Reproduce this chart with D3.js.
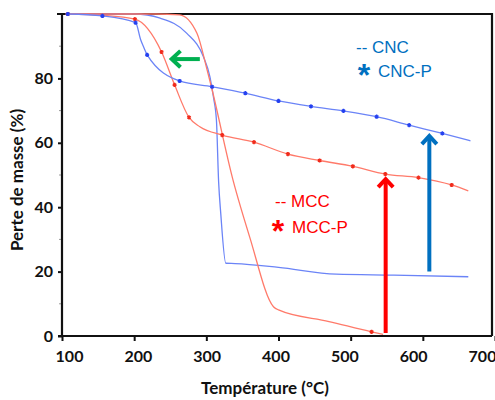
<!DOCTYPE html>
<html>
<head>
<meta charset="utf-8">
<script src="https://cdn.jsdelivr.net/npm/d3@7"></script>
<style>
  body { margin: 0; background: #fff; }
  svg { display: block; }
  .tick text { font-family: Lato, sans-serif; font-weight: 700; font-size: 16px; fill: #111; }
</style>
</head>
<body>
<div id="chart"></div>
<script>
'use strict';

const width = 495;
const height = 400;

// CNC (plain blue line)
const cncTemp = [105, 200, 236, 273, 296, 305, 310, 314, 317, 320, 327, 340, 400, 480, 560, 663];
const cncMass = [100, 100, 98.7, 94, 86.7, 80.5, 74, 67, 48, 38, 22.6, 22.5, 21.3, 19.2, 18.9, 18.4];

// CNC-P (blue, asterisk markers)
const cncpTemp = [108, 156, 202, 209, 213, 218, 263, 308, 354, 400, 445, 490, 536, 581, 627, 666];
const cncpMass = [100, 99.4, 97.3, 92, 89.8, 87.3, 79.2, 77.4, 75.4, 73.0, 71.3, 69.9, 68.1, 65.5, 62.9, 60.6];
const cncpStar = [1, 1, 1, 0, 0, 1, 1, 1, 1, 1, 1, 1, 1, 1, 1, 0];

// MCC (plain red line)
const mccTemp = [105, 230, 263, 287, 300, 307, 337, 360, 393, 400, 470, 529, 545];
const mccMass = [100, 100, 99.7, 94, 83.6, 77.4, 48.4, 30.8, 9.1, 8.1, 4.5, 1.3, 0.5];
const mccStar = [0, 0, 0, 0, 0, 0, 0, 0, 0, 0, 0, 1, 0];

// MCC-P (red, asterisk markers)
const mccpTemp = [108, 156, 201, 238, 256, 276, 291, 322, 366, 413, 457, 503, 548, 594, 640, 663];
const mccpMass = [100, 99.6, 98.4, 88.2, 78.0, 67.9, 65.0, 62.4, 60.2, 56.5, 54.5, 52.7, 50.3, 49.2, 46.9, 45.1];
const mccpStar = [1, 0, 1, 1, 1, 1, 0, 1, 1, 1, 1, 1, 1, 1, 1, 0];

const xTicks = [100, 200, 300, 400, 500, 600, 700];
const yTicks = [0, 20, 40, 60, 80];
const yMinor = [10, 30, 50, 70, 90];

// annotation arrows, in data units: [temp from, mass from, temp to, mass to]
const greenArrow = [291, 86, 252, 86];
const redArrow = [548.5, 0.9, 548.5, 48.7];
const blueArrow = [609, 20, 609, 62.1];

const x = d3.scaleLinear().domain([100, 700]).range([62, 495]);
const y = d3.scaleLinear().domain([0, 100]).range([336, 14]);
// tick labels in the source sit slightly off their ticks
const xLabel = d3.scaleLinear().domain([100, 700]).range([69, 482]);

let svg = d3.select('#chart').append('svg')
    .attr('width', width)
    .attr('height', height);

svg.append('rect')
    .attr('width', width)
    .attr('height', height)
    .attr('fill', '#fff');

// frame top & right
svg.append('path')
    .attr('d', `M57,${y(100)}H492V${y(0)}`)
    .attr('fill', 'none')
    .attr('stroke', '#111')
    .attr('stroke-width', 2.2);

// minor y ticks
svg.append('g').selectAll('line').data(yMinor)
    .enter().append('line')
    .attr('x1', 59).attr('x2', 62)
    .attr('y1', d => y(d)).attr('y2', d => y(d))
    .attr('stroke', '#999');

let yAxis = svg.append('g')
    .attr('transform', `translate(${x(100)},0)`)
    .call(d3.axisLeft(y).tickValues(yTicks).tickSize(4).tickPadding(5));
yAxis.select('.domain').attr('d', `M0,${y(100)}V${y(0)}`).attr('stroke-width', 2.2).attr('stroke', '#111');
yAxis.selectAll('.tick line').attr('stroke-width', 2).attr('stroke', '#111');

let xAxis = svg.append('g')
    .attr('transform', `translate(0,${y(0)})`)
    .call(d3.axisBottom(x).tickValues(xTicks).tickSize(5).tickPadding(10));
xAxis.select('.domain').attr('d', 'M58,0H492').attr('stroke-width', 2.2).attr('stroke', '#111');
xAxis.selectAll('.tick line').attr('stroke-width', 2).attr('stroke', '#111');
xAxis.selectAll('.tick text').attr('x', d => xLabel(d) - x(d));

// curves
const line = d3.line()
    .x(d => x(d[0]))
    .y(d => y(d[1]))
    .curve(d3.curveMonotoneX);

const series = [
    {t: cncTemp, m: cncMass, star: null, color: '#6b84f7', mark: '#2440f0'},
    {t: mccTemp, m: mccMass, star: mccStar, color: '#ff7a6a', mark: '#f02a1a'},
    {t: mccpTemp, m: mccpMass, star: mccpStar, color: '#ff7a6a', mark: '#f02a1a'},
    {t: cncpTemp, m: cncpMass, star: cncpStar, color: '#6b84f7', mark: '#2440f0'}
];

const star = d3.symbol().type(d3.symbolAsterisk).size(12);

series.forEach(s => {
    const pts = s.t.map((t, i) => [t, s.m[i]]);
    svg.append('path')
        .attr('d', line(pts))
        .attr('fill', 'none')
        .attr('stroke', s.color)
        .attr('stroke-width', 1.3);
    if (s.star) {
        svg.append('g').selectAll('path')
            .data(pts.filter((p, i) => s.star[i]))
            .enter().append('path')
            .attr('d', star)
            .attr('transform', d => `translate(${x(d[0])},${y(d[1])})`)
            .attr('fill', 'none')
            .attr('stroke', s.mark)
            .attr('stroke-width', 1.5);
    }
});

// arrows
function arrow(a, color, head) {
    const x1 = x(a[0]), y1 = y(a[1]), x2 = x(a[2]), y2 = y(a[3]);
    const ang = Math.atan2(y2 - y1, x2 - x1);
    const g = svg.append('g')
        .attr('fill', 'none')
        .attr('stroke', color)
        .attr('stroke-width', 4)
        .attr('stroke-linecap', 'butt')
        .attr('stroke-linejoin', 'miter');
    g.append('line')
        .attr('x1', x1).attr('y1', y1)
        .attr('x2', x2 - Math.cos(ang) * 2).attr('y2', y2 - Math.sin(ang) * 2);
    const hx1 = x2 - head * Math.cos(ang - 0.75), hy1 = y2 - head * Math.sin(ang - 0.75);
    const hx2 = x2 - head * Math.cos(ang + 0.75), hy2 = y2 - head * Math.sin(ang + 0.75);
    g.append('path').attr('d', `M${hx1},${hy1}L${x2},${y2}L${hx2},${hy2}`);
}

arrow(greenArrow, '#00b050', 12);
arrow(redArrow, '#ff0000', 11);
arrow(blueArrow, '#0070c0', 11);

// legend texts
const legend = [
    {txt: '-- CNC', x: 356, y: 53, color: '#0070c0', starTxt: false},
    {txt: 'CNC-P', x: 378, y: 77, color: '#0070c0', starTxt: true},
    {txt: '-- MCC', x: 275, y: 207, color: '#ff0000', starTxt: false},
    {txt: 'MCC-P', x: 292, y: 233, color: '#ff0000', starTxt: true}
];

legend.forEach(l => {
    svg.append('text')
        .attr('x', l.x).attr('y', l.y)
        .attr('fill', l.color)
        .attr('font-family', '"Liberation Sans", Arial, sans-serif')
        .attr('font-size', 17)
        .text(l.txt);
    if (l.starTxt) {
        svg.append('text')
            .attr('x', l.x - 14).attr('y', l.y + 9)
            .attr('text-anchor', 'middle')
            .attr('fill', l.color)
            .attr('font-family', '"Liberation Sans", Arial, sans-serif')
            .attr('font-weight', 700)
            .attr('font-size', 32)
            .text('*');
    }
});

// axis titles
svg.append('text')
    .attr('x', 265).attr('y', 394)
    .attr('text-anchor', 'middle')
    .attr('font-family', 'Lato, sans-serif')
    .attr('font-weight', 700)
    .attr('font-size', 17)
    .attr('fill', '#111')
    .text('Température (°C)');

svg.append('text')
    .attr('transform', 'translate(23,180) rotate(-90)')
    .attr('text-anchor', 'middle')
    .attr('font-family', 'Lato, sans-serif')
    .attr('font-weight', 700)
    .attr('font-size', 17)
    .attr('fill', '#111')
    .text('Perte de masse (%)');
</script>
</body>
</html>
